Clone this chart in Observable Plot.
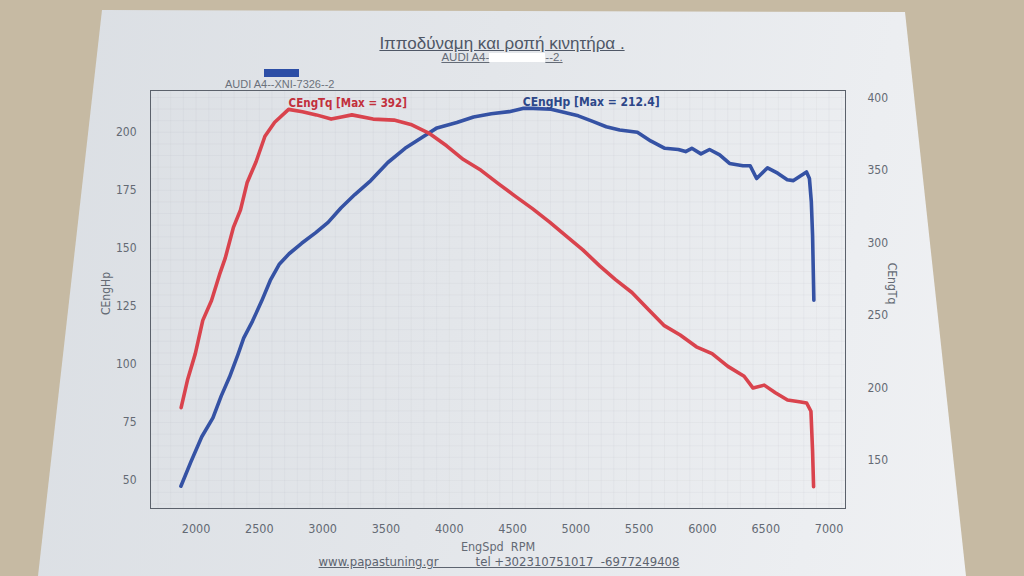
<!DOCTYPE html>
<html>
<head>
<meta charset="utf-8">
<script src="https://cdn.jsdelivr.net/npm/d3@7"></script>
<script src="https://cdn.jsdelivr.net/npm/@observablehq/plot@0.6"></script>
<style>
html, body { margin: 0; padding: 0; width: 1024px; height: 576px; overflow: hidden; background: #c6baa3; }
#paper { position: absolute; left: 0; top: 0; width: 1024px; height: 576px;
  background: linear-gradient(100deg, #dadee3 0%, #e3e6ea 45%, #eceef1 80%, #f1f2f4 100%);
  clip-path: polygon(102px 10px, 905px 12px, 966px 576px, 38px 576px); }
.txt { position: absolute; font-family: "Liberation Sans", Arial, sans-serif; color: #59606c; white-space: nowrap; }
#title { left: 0; width: 1004px; top: 34px; text-align: center; font-size: 17px; text-decoration: underline; color: #4f5766; }
#subtitle { left: 0; width: 1004px; top: 51px; text-align: center; font-size: 11.5px; text-decoration: underline; color: #646b76; }
#redact { display: inline-block; width: 56px; height: 9px; background: #ffffff; vertical-align: -1px; }
#legsw { position: absolute; left: 264px; top: 69px; width: 35px; height: 8px; background: #2c4ea6; }
#legtxt { left: 225px; top: 78px; font-size: 11px; color: #6b717b; }
#chart { position: absolute; left: 0; top: 80px; }
#footer { left: 0; width: 998px; top: 554px; text-align: center; font-size: 13px; color: #5d6470;
  font-family: "Liberation Sans Narrow", "DejaVu Sans Condensed", "Liberation Sans", sans-serif; text-decoration: underline; }
</style>
</head>
<body>
<div id="paper"></div>
<div class="txt" id="title">Ιπποδύναμη και ροπή κινητήρα .</div>
<div class="txt" id="subtitle">AUDI A4-<span id="redact"></span>--2.</div>
<div id="legsw"></div>
<div class="txt" id="legtxt">AUDI A4--XNI-7326--2</div>
<div id="chart"></div>
<div class="txt" id="footer">www.papastuning.gr&nbsp;&nbsp;&nbsp;&nbsp;&nbsp;&nbsp;&nbsp;&nbsp;&nbsp;&nbsp;tel +302310751017&nbsp;&nbsp;-6977249408</div>
<script>
// ---- data ----
const hpRpm = [1880,1959,2045,2133,2199,2265,2330,2376,2446,2517,2586,2659,2735,2834,2943,3043,3144,3254,3380,3515,3651,3781,3903,4060,4192,4332,4473,4581,4663,4804,4912,5019,5133,5240,5346,5486,5591,5703,5810,5867,5916,5988,6056,6136,6214,6320,6377,6428,6514,6594,6670,6719,6822,6845,6860,6870,6880];
const hpVal = [47.6,58.1,68.9,77.0,86.5,94.7,104.2,111.4,118.7,127.2,136.2,143.3,147.7,152.2,156.7,161.2,167.4,173.2,179.2,187.0,193.1,197.7,201.9,204.2,206.6,208.0,208.9,210.3,210.3,209.9,208.5,207.1,204.7,202.4,201.0,200.0,196.3,193.1,192.6,191.7,193.1,190.7,192.6,190.3,186.6,185.6,185.6,180.1,184.7,182.4,179.6,179.2,182.9,180.1,170.1,155.4,127.7];
const tqRpm = [1882,1934,1994,2053,2122,2185,2231,2295,2351,2403,2474,2544,2621,2731,2840,2950,3067,3148,3231,3398,3563,3696,3838,3979,4112,4251,4390,4520,4657,4793,4920,5055,5188,5313,5443,5573,5695,5824,5952,6076,6201,6329,6400,6488,6576,6672,6777,6823,6857,6870,6878];
const tqVal = [186.5,206.1,223.7,246.6,260.3,278.1,289.7,310.7,322.8,341.4,355.9,373.5,383.1,392.0,390.4,388.2,385.3,386.8,388.2,385.3,384.6,381.6,375.7,366.9,357.4,350.0,340.7,332.2,323.6,314.3,305.0,295.2,284.2,274.7,265.8,254.1,243.2,236.5,228.4,223.7,214.9,208.1,200.0,202.0,196.8,191.7,190.4,189.7,184.0,156.4,132.0];
const xTicks = [2000,2500,3000,3500,4000,4500,5000,5500,6000,6500,7000];
const hpTicks = [50,75,100,125,150,175,200];
const tqTicks = [150,200,250,300,350,400];
const hpMaxText = 212.4;
const tqMaxText = 392;

// ---- scales / derived ----
const hpDomain = [38, 218];
const tqDomain = [117, 405];
const hpFromTq = d3.scaleLinear(tqDomain, hpDomain);
const hpData = hpRpm.map((r, i) => ({rpm: r, v: hpVal[i]}));
const tqData = tqRpm.map((r, i) => ({rpm: r, v: hpFromTq(tqVal[i])}));
const hpPeak = d3.greatest(hpData, d => d.v);
const tqPeak = d3.greatest(tqData, d => d.v);

const axisFont = "'Liberation Sans Narrow','DejaVu Sans Condensed','Liberation Sans',sans-serif";
const grey = "#646a74";

const chart = Plot.plot({
  width: 1024,
  height: 470,
  marginLeft: 150,
  marginRight: 179,
  marginTop: 10,
  marginBottom: 42,
  style: {background: "transparent", fontFamily: axisFont, fontSize: "12px", color: grey, overflow: "visible"},
  x: {domain: [1640, 7130]},
  y: {domain: hpDomain},
  marks: [
    Plot.gridX(d3.range(1700, 7101, 100), {stroke: "#8a9099", strokeOpacity: 0.06}),
    Plot.gridY(d3.range(40, 218, 5), {stroke: "#8a9099", strokeOpacity: 0.06}),
    Plot.frame({stroke: "#5b616b", strokeWidth: 1}),
    Plot.axisX(xTicks, {tickSize: 0, tickPadding: 16, fontSize: 12.5, fill: grey, tickFormat: d => String(d),
      label: "EngSpd\u00a0 RPM", labelAnchor: "center", labelOffset: 42, labelArrow: "none"}),
    Plot.axisY(hpTicks, {anchor: "left", tickSize: 0, tickPadding: 14, fontSize: 12, fill: grey, label: null}),
    Plot.axisY(tqTicks.map(hpFromTq), {anchor: "right", tickSize: 0, tickPadding: 22, fontSize: 12, fill: grey,
      tickFormat: d => String(Math.round(hpFromTq.invert(d))), label: null}),
    Plot.text(["CEngHp"], {frameAnchor: "left", textAnchor: "middle", rotate: -90, dx: -44, dy: -6, fontSize: 12, fill: grey}),
    Plot.text(["CEngTq"], {frameAnchor: "right", textAnchor: "middle", rotate: 90, dx: 46, dy: -16, fontSize: 12, fill: grey}),
    Plot.line(hpData, {x: "rpm", y: "v", stroke: "#3552a4", strokeWidth: 3.6}),
    Plot.line(tqData, {x: "rpm", y: "v", stroke: "#d9434d", strokeWidth: 3.6}),
    Plot.text([tqPeak], {x: "rpm", y: "v", text: () => `CEngTq [Max = ${tqMaxText}]`, textAnchor: "start",
      dy: -6, fill: "#c2303c", fontWeight: "bold", fontSize: 11.5, fontFamily: axisFont}),
    Plot.text([hpPeak], {x: "rpm", y: "v", text: () => `CEngHp [Max = ${hpMaxText}]`, textAnchor: "start",
      dy: -6, fill: "#2d4789", fontWeight: "bold", fontSize: 12, fontFamily: axisFont})
  ]
});
document.getElementById("chart").appendChild(chart);
</script>
</body>
</html>
